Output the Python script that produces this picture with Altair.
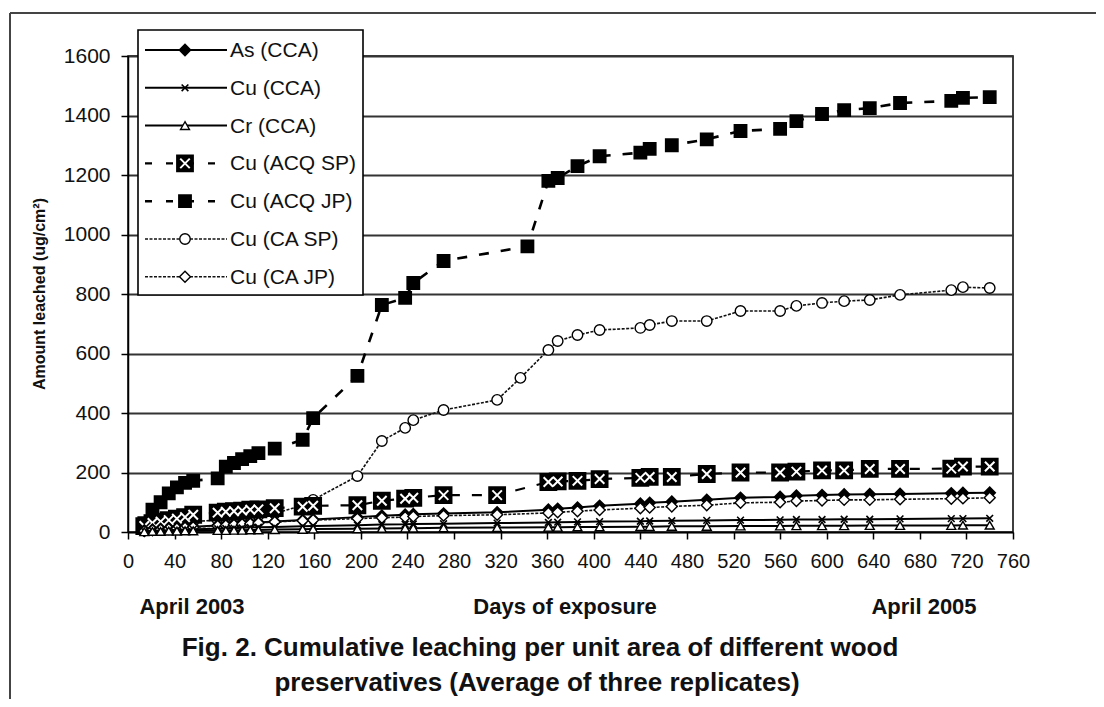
import altair as alt
import pandas as pd

# ---------------- data ----------------
LEGEND_LABELS = ["As (CCA)", "Cu (CCA)", "Cr (CCA)", "Cu (ACQ SP)", "Cu (ACQ JP)", "Cu (CA SP)", "Cu (CA JP)"]

DAYS = [14, 21, 28, 35, 42, 49, 56, 77, 84, 91, 98, 105, 112, 126, 150, 159, 197, 218, 238, 245, 271, 317,
        361, 369, 386, 405, 440, 448, 467, 497, 526, 560, 574, 596, 615, 637, 663, 707, 717, 740]

AS_CCA = [5, 8, 10, 12, 14, 16, 18, 22, 24, 26, 28, 30, 32, 35, 40, 42, 50, 55, 58, 60, 62, 66,
          75, 78, 82, 88, 95, 98, 102, 108, 115, 118, 122, 124, 126, 127, 128, 130, 131, 132]
CU_CCA = [3, 4, 5, 6, 7, 8, 9, 11, 12, 13, 14, 15, 16, 17, 19, 20, 23, 25, 26, 27, 28, 30,
          32, 33, 34, 35, 36, 37, 38, 39, 40, 41, 42, 42, 43, 43, 44, 45, 45, 46]
CR_CCA = [1, 2, 2, 3, 3, 4, 4, 5, 5, 6, 6, 7, 7, 8, 9, 10, 11, 12, 13, 13, 14, 15,
          16, 16, 17, 17, 18, 18, 19, 19, 20, 20, 21, 21, 21, 22, 22, 22, 23, 23]
CU_ACQ_SP = [20, 30, 35, 40, 45, 50, 58, 65, 68, 70, 72, 75, 76, 80, 85, 88, 90, 105, 112, 115, 124, 124,
             168, 170, 172, 178, 182, 185, 185, 195, 200, 200, 203, 207, 207, 212, 212, 213, 220, 220]
CU_CA_JP = [3, 6, 8, 10, 12, 14, 16, 20, 22, 24, 26, 28, 30, 34, 38, 40, 45, 48, 50, 52, 55, 58,
            64, 66, 70, 74, 80, 82, 86, 90, 98, 100, 104, 106, 108, 108, 110, 112, 113, 115]

DAYS_ACQ_JP = [14, 21, 28, 35, 42, 49, 56, 77, 84, 91, 98, 105, 112, 126, 150, 159, 197, 218, 238, 245, 271, 343,
               361, 369, 386, 405, 440, 448, 467, 497, 526, 560, 574, 596, 615, 637, 663, 707, 717, 740]
CU_ACQ_JP = [30, 75, 100, 130, 150, 165, 172, 180, 220, 232, 245, 255, 265, 280, 310, 383, 525, 763, 787, 837, 911, 960,
             1180, 1190, 1230, 1263, 1275, 1288, 1300, 1320, 1348, 1355, 1381, 1405, 1418, 1425, 1442, 1449, 1459, 1462]

DAYS_CA_SP = [14, 21, 28, 35, 42, 49, 56, 77, 84, 91, 98, 105, 112, 126, 150, 159, 197, 218, 238, 245, 271, 317, 337,
              361, 369, 386, 405, 440, 448, 467, 497, 526, 560, 574, 596, 615, 637, 663, 707, 717, 740]
CU_CA_SP = [5, 10, 15, 22, 28, 32, 35, 40, 44, 47, 50, 53, 56, 62, 90, 108, 188, 306, 350, 376, 410, 444, 518,
            612, 642, 662, 679, 686, 696, 709, 709, 743, 743, 760, 770, 776, 780, 797, 813, 823, 820]

X_TICKS = list(range(0, 761, 40))
Y_TICKS = list(range(0, 1601, 200))

Y_TITLE = "Amount leached (ug/cm²)"
X_TITLE = "Days of exposure"
DATE_LEFT = "April 2003"
DATE_RIGHT = "April  2005"
CAPTION = ["Fig. 2. Cumulative leaching per unit area of different wood",
           "preservatives (Average of three replicates)"]

FONT = "Liberation Sans"
W, H = 885, 476

xs = alt.Scale(domain=[0, 760], nice=False, zero=False)
ys = alt.Scale(domain=[0, 1600], nice=False)
xaxis = alt.Axis(values=X_TICKS, title=None, grid=False, labelFontSize=20,
                 labelPadding=12, tickSize=7, labelFlush=False, format="d")
yaxis = alt.Axis(values=Y_TICKS, title=None, grid=True, labelFontSize=21,
                 labelPadding=11, tickSize=7, format="d")

XPATH = "M-1,-1L1,1M-1,1L1,-1"

# style per series: (line props, list of marker props)
STYLES = {
    "As (CCA)": (dict(stroke="black", strokeWidth=2),
                 [dict(shape="diamond", filled=True, fill="black", stroke="black", size=110)]),
    "Cu (CCA)": (dict(stroke="black", strokeWidth=2),
                 [dict(shape=XPATH, filled=False, stroke="black", strokeWidth=1.6, size=45)]),
    "Cr (CCA)": (dict(stroke="black", strokeWidth=2),
                 [dict(shape="triangle-up", filled=True, fill="white", stroke="black", strokeWidth=1.4, size=80)]),
    "Cu (ACQ SP)": (dict(stroke="black", strokeWidth=2.2, strokeDash=[10, 12]),
                    [dict(shape="square", filled=True, fill="black", stroke="black", size=250),
                     dict(shape=XPATH, filled=False, stroke="white", strokeWidth=2, size=90)]),
    "Cu (ACQ JP)": (dict(stroke="black", strokeWidth=2.6, strokeDash=[10, 12]),
                    [dict(shape="square", filled=True, fill="black", stroke="black", size=140)]),
    "Cu (CA SP)": (dict(stroke="#111", strokeWidth=1.6, strokeDash=[3, 1.5]),
                   [dict(shape="circle", filled=True, fill="white", stroke="black", strokeWidth=1.4, size=110)]),
    "Cu (CA JP)": (dict(stroke="#111", strokeWidth=1.6, strokeDash=[3, 1.5]),
                   [dict(shape="diamond", filled=True, fill="white", stroke="black", strokeWidth=1.4, size=120)]),
}

SERIES = [
    ("Cu (ACQ JP)", DAYS_ACQ_JP, CU_ACQ_JP),
    ("Cu (CA SP)", DAYS_CA_SP, CU_CA_SP),
    ("Cu (ACQ SP)", DAYS, CU_ACQ_SP),
    ("As (CCA)", DAYS, AS_CCA),
    ("Cu (CA JP)", DAYS, CU_CA_JP),
    ("Cu (CCA)", DAYS, CU_CCA),
    ("Cr (CCA)", DAYS, CR_CCA),
]

layers = []
for name, d, v in SERIES:
    df = pd.DataFrame({"day": d, "val": v})
    base = alt.Chart(df).encode(x=alt.X("day:Q", scale=xs, axis=xaxis),
                                y=alt.Y("val:Q", scale=ys, axis=yaxis))
    lp, mps = STYLES[name]
    layers.append(base.mark_line(**lp))
    for mp in mps:
        layers.append(base.mark_point(opacity=1, **mp))

one = pd.DataFrame({"a": [0]})

# outer figure frame (left and top edges of the scanned figure)
layers.append(alt.Chart(one).mark_rule(stroke="#444", strokeWidth=2).encode(
    x=alt.value(-118), y=alt.value(-43), y2=alt.value(700)))
layers.append(alt.Chart(one).mark_rule(stroke="#444", strokeWidth=2).encode(
    x=alt.value(-118), x2=alt.value(1000), y=alt.value(-43)))

# legend box
LX0, LX1, LY0, LY1 = 10, 235, -26, 239
layers.append(alt.Chart(one).mark_rect(fill="white", stroke="black", strokeWidth=1.6).encode(
    x=alt.value(LX0), x2=alt.value(LX1), y=alt.value(LY0), y2=alt.value(LY1)))
for i, name in enumerate(LEGEND_LABELS):
    ly = -6 + 37.8 * i
    lp, mps = STYLES[name]
    lpp = dict(lp)
    if "strokeDash" in lpp and lpp["strokeDash"][0] >= 10:
        lpp["strokeDash"] = [7, 14]
    layers.append(alt.Chart(one).mark_rule(**lpp).encode(
        x=alt.value(17), x2=alt.value(99), y=alt.value(ly)))
    for mp in mps:
        layers.append(alt.Chart(one).mark_point(opacity=1, **mp).encode(
            x=alt.value(57), y=alt.value(ly)))
    layers.append(alt.Chart(one).mark_text(align="left", baseline="middle", fontSize=21,
                                           font=FONT, color="#111").encode(
        x=alt.value(102), y=alt.value(ly + 1), text=alt.value(name)))

# axis titles, date labels and caption as text
TEXTS = [
    (Y_TITLE, -88, 238, 16, 270),
    (DATE_LEFT, 64, 551, 22, 0),
    (X_TITLE, 437, 551, 22, 0),
    (DATE_RIGHT, 796, 551, 22, 0),
    (CAPTION[0], 412, 592, 26, 0),
    (CAPTION[1], 409, 627, 26, 0),
]
for t, tx, ty, fs, ang in TEXTS:
    layers.append(alt.Chart(one).mark_text(align="center", baseline="middle", fontSize=fs, fontWeight="bold",
                                           font=FONT, color="#111", angle=ang).encode(
        x=alt.value(tx), y=alt.value(ty), text=alt.value(t)))

chart = alt.layer(*layers).properties(
    width=W, height=H,
    autosize=alt.AutoSizeParams(type="none"),
    padding={"left": 120, "top": 48, "right": 83, "bottom": 167},
    background="white",
).configure_view(stroke="black", strokeWidth=1.5).configure_axis(
    labelFont=FONT, titleFont=FONT, labelColor="#111", titleColor="#111",
    domainColor="black", domainWidth=1.5, tickColor="black", tickWidth=1.5,
    gridColor="#333", gridWidth=2, gridOpacity=1,
)

chart.save("out.html", embed_options={"renderer": "svg", "actions": False})
